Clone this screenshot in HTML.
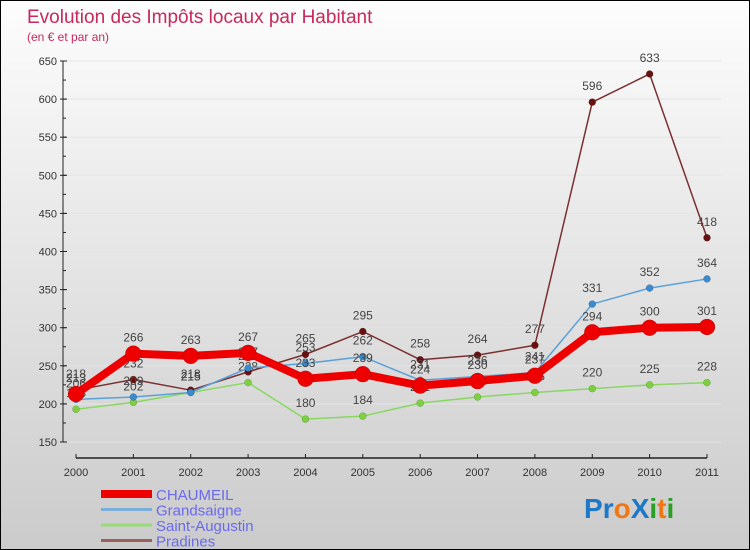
<!DOCTYPE html>
<html><head><meta charset="utf-8"><style>
body{margin:0}
#c{width:750px;height:550px;position:relative;overflow:hidden;box-sizing:border-box;border:1px solid #000;background:linear-gradient(#fdfdfd,#cbcbcb);font-family:"Liberation Sans",sans-serif}
text{font-family:"Liberation Sans",sans-serif}
</style></head><body>
<div id="c">
<svg id="s" width="750" height="550">
<text x="26" y="22" font-size="19" fill="#c8285a">Evolution des Impôts locaux par Habitant</text>
<text x="26" y="40" font-size="12" fill="#c8285a">(en € et par an)</text>
<g id="grid"></g><g id="axes"></g><g id="series"></g><g id="legend"></g>
<g font-size="28" font-weight="bold">
<text x="583" y="517"><tspan fill="#1e78c8">P</tspan><tspan fill="#1e78c8">r</tspan><tspan fill="#f07814">o</tspan><tspan fill="#1e78c8">X</tspan><tspan fill="#28a028">i</tspan><tspan fill="#f07814">t</tspan><tspan fill="#28a028">i</tspan></text>
</g>
</svg>
</div>
<script>
const years=["2000","2001","2002","2003","2004","2005","2006","2007","2008","2009","2010","2011"];
const yTicks=[150,200,250,300,350,400,450,500,550,600,650];
const chaumeil=[213,266,263,267,233,239,224,230,237,294,300,301];
const grandsaigne=[206,209,215,247,253,262,231,236,241,331,352,364];
const saintAugustin=[193,202,215,228,180,184,201,209,215,220,225,228];
const pradines=[218,232,218,242,265,295,258,264,277,596,633,418];
const NS="http://www.w3.org/2000/svg";
const X=i=>75+i*(706-75)/11;
const Y=v=>441-(v-150)*(381/500);
function mk(tag,attrs,parent){const e=document.createElementNS(NS,tag);for(const k in attrs)e.setAttribute(k,attrs[k]);parent.appendChild(e);return e;}
const grid=document.getElementById('grid'),axes=document.getElementById('axes'),ser=document.getElementById('series'),leg=document.getElementById('legend');
yTicks.forEach(t=>{
 const l=mk('line',{x1:62,x2:720,y1:Y(t),y2:Y(t),stroke:'#e4e4e4','stroke-width':1},grid);
 
 
 const tk=mk('line',{x1:59,x2:66,y1:Y(t),y2:Y(t),stroke:'#222'},axes);
 
 
 const tx=mk('text',{x:56,y:Y(t)+4,'text-anchor':'end','font-size':11,fill:'#333'},axes);
 tx.textContent=t;
 
 
});
for(let v=150;v<650;v+=25){const m=mk('line',{x1:62,x2:65,y1:Y(v),y2:Y(v),stroke:'#222'},axes);}
const ya=mk('line',{x1:62,x2:62,y1:Y(650),y2:Y(150),stroke:'#222'},axes);


const xa=mk('line',{x1:75,x2:706,y1:457,y2:457,stroke:'#222','stroke-width':1.5},axes);


years.forEach((y,i)=>{
 const tk=mk('line',{x1:X(i),x2:X(i),y1:453,y2:457,stroke:'#222'},axes);
 
 
 const tx=mk('text',{x:X(i),y:475,'text-anchor':'middle','font-size':11,fill:'#333'},axes);
 tx.textContent=y;
 
 
});
const series=[
 {name:'Saint-Augustin',d:saintAugustin,c:'#88d860',dot:'#7cd040',w:1.5,r:3.5,id:'saint-augustin'},
 {name:'Pradines',d:pradines,c:'#7a3030',dot:'#6a1010',w:1.5,r:3.5,id:'pradines'},
 {name:'Grandsaigne',d:grandsaigne,c:'#5aa0d8',dot:'#3a8ad0',w:1.5,r:3.5,id:'grandsaigne'},
 {name:'CHAUMEIL',d:chaumeil,c:'#ee0000',dot:'#ee0000',w:8,r:8,id:'chaumeil'}
];
series.forEach(s=>{
 const g=mk('g',{},ser);
 
 
 const p=mk('polyline',{points:s.d.map((v,i)=>X(i)+','+Y(v)).join(' '),fill:'none',stroke:s.c,'stroke-width':s.w,'stroke-linejoin':'round'},g);
 
 
 s.d.forEach((v,i)=>{
  const c=mk('circle',{cx:X(i),cy:Y(v),r:s.r,fill:s.dot,stroke:'rgba(0,0,0,0.25)','stroke-width':0.5},g);
  
  
  const t=mk('text',{x:X(i),y:Y(v)-12,'text-anchor':'middle','font-size':12,fill:'#444'},g);
  t.textContent=v;
  
  
 });
});
const legItems=[['CHAUMEIL','#ee0000',8],['Grandsaigne','#7aaed8',3],['Saint-Augustin','#98dc78',3],['Pradines','#9a6060',3]];
legItems.forEach((l,i)=>{
 const y=493+i*15.5;
 const ln=mk('line',{x1:100,x2:151,y1:y,y2:y,stroke:l[1],'stroke-width':l[2]},leg);
 
 
 const t=mk('text',{x:155,y:y+6,'font-size':15,fill:'#6a6aee'},leg);
 t.textContent=l[0];
 
 
});
</script>
</body></html>
